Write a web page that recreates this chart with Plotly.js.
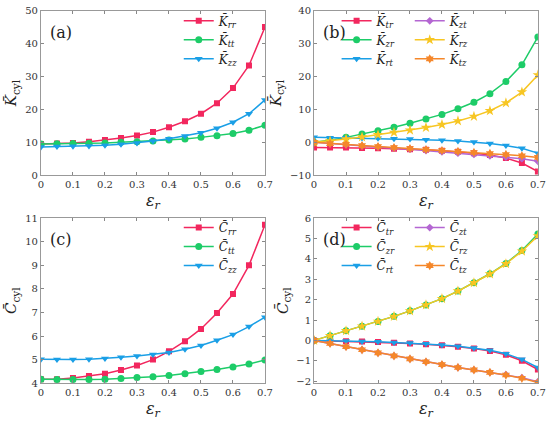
<!DOCTYPE html>
<html><head><meta charset="utf-8">
<script src="https://cdn.plot.ly/plotly-3.0.1.min.js"></script>
<style>html,body{margin:0;padding:0;background:#fff}#plot{width:550px;height:422px}</style>
</head><body><div id="plot"></div>
<script>
const eps = [0,0.05,0.1,0.15,0.2,0.25,0.3,0.35,0.4,0.45,0.5,0.55,0.6,0.65,0.7];
const xTicks = [0,0.1,0.2,0.3,0.4,0.5,0.6,0.7];
const xTickText = ["0","0.1","0.2","0.3","0.4","0.5","0.6","0.7"];
// Panel (a)
const Krr = [9.5,9.6,9.8,10.2,10.7,11.3,12.1,13.1,14.6,16.4,18.7,21.9,26.5,33.4,45.1];
const Ktt = [9.5,9.55,9.6,9.7,9.8,10.0,10.2,10.4,10.7,11.0,11.5,12.0,12.7,13.7,15.2];
const Kzz = [8.6,8.7,8.8,8.9,9.1,9.4,9.8,10.4,11.1,11.9,12.9,14.3,16.1,18.7,22.9];
// Panel (b)
const Ktr = [-1.6,-1.6,-1.6,-1.7,-1.8,-2.0,-2.1,-2.3,-2.6,-2.9,-3.3,-3.9,-4.8,-6.3,-8.9];
const Kzr = [0,0.6,1.5,2.5,3.5,4.6,5.8,7.1,8.5,10.2,12.2,14.8,18.5,23.6,32.1];
const Krt = [1.5,1.4,1.4,1.3,1.2,1.1,1.0,0.8,0.6,0.4,0.1,-0.4,-1.0,-1.8,-3.3];
const Kzt = [0,-0.4,-0.7,-1.1,-1.4,-1.8,-2.1,-2.5,-2.9,-3.3,-3.7,-4.1,-4.5,-5.0,-5.8];
const Krz = [0,0.4,1.0,1.6,2.3,3.0,3.7,4.5,5.4,6.5,7.9,9.6,12.0,15.3,20.5];
const Ktz = [0,-0.4,-0.6,-1.0,-1.3,-1.6,-1.9,-2.2,-2.5,-2.8,-3.1,-3.4,-3.7,-4.1,-4.6];
// Panel (c)
const Crr = [4.17,4.17,4.22,4.3,4.4,4.56,4.75,5.0,5.35,5.78,6.3,6.98,7.78,9.0,10.72];
const Ctt = [4.17,4.16,4.16,4.16,4.17,4.2,4.24,4.27,4.33,4.4,4.5,4.58,4.69,4.81,4.98];
const Czz = [5.02,5.0,5.0,5.02,5.05,5.1,5.15,5.22,5.3,5.44,5.6,5.82,6.06,6.4,6.8];
// Panel (d)
const Ctr = [0,-0.02,-0.04,-0.06,-0.08,-0.11,-0.15,-0.19,-0.24,-0.31,-0.4,-0.52,-0.71,-1.0,-1.43];
const Czr = [0,0.23,0.47,0.7,0.93,1.18,1.45,1.74,2.05,2.42,2.83,3.27,3.78,4.41,5.22];
const Crt = [0,-0.01,-0.03,-0.05,-0.07,-0.1,-0.13,-0.17,-0.22,-0.29,-0.37,-0.48,-0.66,-0.93,-1.33];
const Czt = [0,-0.15,-0.31,-0.46,-0.61,-0.76,-0.91,-1.05,-1.19,-1.33,-1.45,-1.57,-1.68,-1.83,-2.03];
const Crz = [0,0.23,0.47,0.7,0.93,1.18,1.45,1.74,2.05,2.42,2.83,3.26,3.76,4.38,5.13];
const Ctz = [0,-0.15,-0.31,-0.46,-0.61,-0.76,-0.91,-1.05,-1.19,-1.33,-1.45,-1.57,-1.7,-1.86,-2.07];

const RED="#F2275E", GREEN="#1DCC68", BLUE="#1A9FE6", PURPLE="#B466D2", YELLOW="#F7C623", ORANGE="#F5872A";
const FONT = "DejaVu Serif";

function lab(sym, sub){ return "<i>"+sym+"\u0304</i><sub><i>"+sub+"</i></sub>"; }
function tr(x,y,xa,ya,name,color,symbol,leg,size){
  return {x:x,y:y,type:"scatter",mode:"lines+markers",name:name,xaxis:xa,yaxis:ya,legend:leg,
    line:{color:color,width:1.5},marker:{color:color,symbol:symbol,size:size||6}};
}
const data = [
  tr(eps,Krr,"x","y",lab("K","rr"),RED,"square","legend"),
  tr(eps,Ktt,"x","y",lab("K","tt"),GREEN,"circle","legend",7),
  tr(eps,Kzz,"x","y",lab("K","zz"),BLUE,"triangle-down","legend",7),

  tr(eps,Ktr,"x2","y2",lab("K","tr"),RED,"square","legend2"),
  tr(eps,Kzr,"x2","y2",lab("K","zr"),GREEN,"circle","legend2",7),
  tr(eps,Krt,"x2","y2",lab("K","rt"),BLUE,"triangle-down","legend2",7),
  tr(eps,Kzt,"x2","y2",lab("K","zt"),PURPLE,"diamond","legend3"),
  tr(eps,Krz,"x2","y2",lab("K","rz"),YELLOW,"star","legend3",8),
  tr(eps,Ktz,"x2","y2",lab("K","tz"),ORANGE,"hexagram","legend3",7),

  tr(eps,Crr,"x3","y3",lab("C","rr"),RED,"square","legend4"),
  tr(eps,Ctt,"x3","y3",lab("C","tt"),GREEN,"circle","legend4",7),
  tr(eps,Czz,"x3","y3",lab("C","zz"),BLUE,"triangle-down","legend4",7),

  tr(eps,Ctr,"x4","y4",lab("C","tr"),RED,"square","legend5"),
  tr(eps,Czr,"x4","y4",lab("C","zr"),GREEN,"circle","legend5",7),
  tr(eps,Crt,"x4","y4",lab("C","rt"),BLUE,"triangle-down","legend5",7),
  tr(eps,Czt,"x4","y4",lab("C","zt"),PURPLE,"diamond","legend6"),
  tr(eps,Crz,"x4","y4",lab("C","rz"),YELLOW,"star","legend6",8),
  tr(eps,Ctz,"x4","y4",lab("C","tz"),ORANGE,"hexagram","legend6",7)
];

function xax(dom, anchor){
  return {domain:dom, anchor:anchor, range:[0,0.7], tickvals:xTicks, ticktext:xTickText,
    ticks:"inside", ticklen:3, tickcolor:"#888", showline:true, linecolor:"#999", linewidth:1, mirror:"ticks",
    showgrid:false, zeroline:false, tickfont:{family:FONT,size:10,color:"#333"},
    title:{text:"<i>ε</i><sub><i>r</i></sub>", font:{family:FONT,size:16,color:"#222"}, standoff:5}};
}
function yax(dom, anchor, range, dtick, sym){
  return {domain:dom, anchor:anchor, range:range, dtick:dtick, tick0:0,
    ticks:"inside", ticklen:3, tickcolor:"#888", showline:true, linecolor:"#999", linewidth:1, mirror:"ticks",
    showgrid:false, zeroline:false, tickfont:{family:FONT,size:10,color:"#333"},
    title:{text:"<i>"+sym+"\u0304</i><sub>cyl</sub>", font:{family:FONT,size:15,color:"#222"}, standoff:4}};
}
const topY=[0.585,0.974], botY=[0.092,0.483];
const leftX=[0.0745,0.4818], rightX=[0.571,0.978];
function leg(x,y){ return {x:x,y:y,xref:"paper",yref:"paper",xanchor:"left",yanchor:"top",
  bgcolor:"rgba(0,0,0,0)",borderwidth:0,font:{family:FONT,size:12,color:"#222"},tracegroupgap:0,itemwidth:30}; }
const layout = {
  width:550, height:422, margin:{l:0,r:0,t:0,b:0}, paper_bgcolor:"#fff", plot_bgcolor:"#fff",
  showlegend:true,
  xaxis:xax(leftX,"y"), yaxis:yax(topY,"x",[0,50],10,"K"),
  xaxis2:xax(rightX,"y2"), yaxis2:yax(topY,"x2",[-10,40],10,"K"),
  xaxis3:xax(leftX,"y3"), yaxis3:yax(botY,"x3",[4,11],1,"C"),
  xaxis4:xax(rightX,"y4"), yaxis4:yax(botY,"x4",[-2.1,6],1,"C"),
  legend:leg(0.325,0.985),
  legend2:leg(0.612,0.985),
  legend3:leg(0.745,0.985),
  legend4:leg(0.325,0.495),
  legend5:leg(0.612,0.495),
  legend6:leg(0.745,0.495),
  annotations:[
    {text:"(a)",xref:"x domain",yref:"y domain",x:0.03,y:0.94,xanchor:"left",yanchor:"top",showarrow:false,font:{family:FONT,size:16,color:"#222"}},
    {text:"(b)",xref:"x2 domain",yref:"y2 domain",x:0.03,y:0.94,xanchor:"left",yanchor:"top",showarrow:false,font:{family:FONT,size:16,color:"#222"}},
    {text:"(c)",xref:"x3 domain",yref:"y3 domain",x:0.03,y:0.94,xanchor:"left",yanchor:"top",showarrow:false,font:{family:FONT,size:16,color:"#222"}},
    {text:"(d)",xref:"x4 domain",yref:"y4 domain",x:0.03,y:0.94,xanchor:"left",yanchor:"top",showarrow:false,font:{family:FONT,size:16,color:"#222"}}
  ]
};
Plotly.newPlot("plot", data, layout, {displayModeBar:false, staticPlot:true});
</script></body></html>
